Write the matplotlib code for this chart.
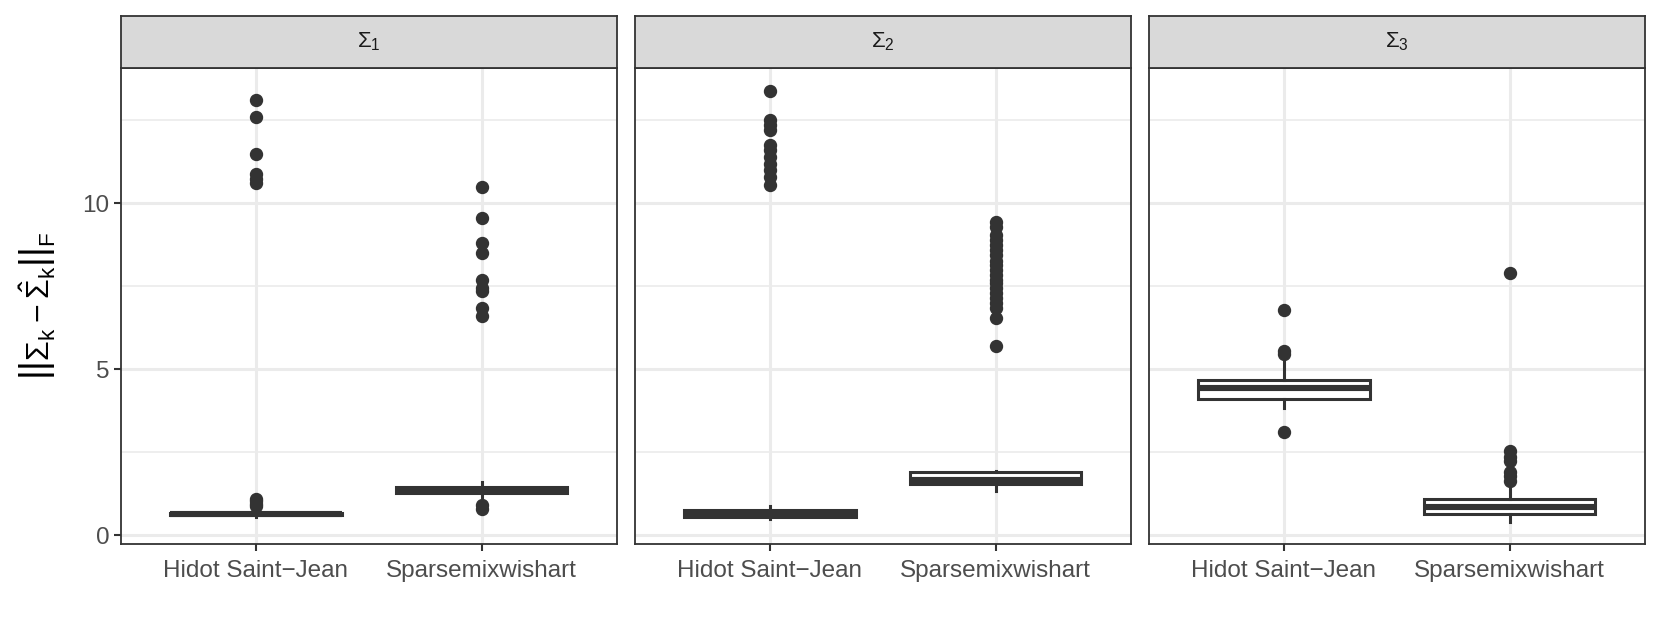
import matplotlib
matplotlib.use("Agg")
import matplotlib.pyplot as plt

plt.rcParams['font.family'] = ['Liberation Sans', 'DejaVu Sans']
plt.rcParams['mathtext.fontset'] = 'custom'
plt.rcParams['mathtext.rm'] = 'Liberation Sans'
plt.rcParams['mathtext.it'] = 'Liberation Sans:italic'
plt.rcParams['mathtext.bf'] = 'Liberation Sans:bold'

# data
methods = ["Hidot Saint\u2212Jean", "Sparsemixwishart"]
panels = [r"$\Sigma_1$", r"$\Sigma_2$", r"$\Sigma_3$"]

# per panel: [Hidot, Sparse]
q1 = [[0.60, 1.27], [0.56, 1.55], [4.12, 0.63]]
med = [[0.64, 1.36], [0.65, 1.68], [4.44, 0.86]]
q3 = [[0.68, 1.45], [0.75, 1.90], [4.67, 1.08]]
whislo = [[0.55, 1.15], [0.50, 1.33], [3.84, 0.40]]
whishi = [[0.75, 1.60], [0.88, 1.95], [5.29, 1.48]]
fliers = [
    [[0.88, 0.95, 1.02, 1.10, 10.6, 10.75, 10.9, 11.5, 12.6, 13.1],
     [0.80, 0.90, 6.6, 6.85, 7.35, 7.45, 7.7, 8.5, 8.8, 9.55, 10.48]],
    [[10.55, 10.8, 11.0, 11.2, 11.4, 11.6, 11.75, 12.2, 12.35, 12.5, 13.4],
     [5.7, 6.55, 6.85, 7.0, 7.15, 7.3, 7.45, 7.6, 7.7, 7.85, 8.0, 8.15,
      8.25, 8.45, 8.6, 8.75, 8.9, 9.05, 9.3, 9.45]],
    [[3.1, 5.45, 5.55, 6.79],
     [1.65, 1.8, 1.9, 2.25, 2.35, 2.55, 7.91]],
]

W, H = 1661, 634
fig = plt.figure(figsize=(W / 100, H / 100), dpi=100)

dark = "#333333"
lefts = [120.5, 634.5, 1148.5]
pw = 496.5
ax_bottom, ax_top, strip_top = 544.3, 68.3, 15.7

for i in range(3):
    ax = fig.add_axes([lefts[i] / W, 1 - ax_bottom / H, pw / W, (ax_bottom - ax_top) / H])
    stats = []
    for j in range(2):
        stats.append(dict(med=med[i][j], q1=q1[i][j], q3=q3[i][j],
                          whislo=whislo[i][j], whishi=whishi[i][j],
                          fliers=fliers[i][j]))
    ax.bxp(stats, positions=[1, 2], widths=0.76, showcaps=False, patch_artist=True,
           boxprops=dict(facecolor="white", edgecolor=dark, linewidth=2.2),
           medianprops=dict(color=dark, linewidth=4.4, solid_capstyle="butt"),
           whiskerprops=dict(color=dark, linewidth=2.2),
           flierprops=dict(marker="o", markerfacecolor=dark, markeredgecolor=dark,
                           markersize=8.6, linestyle="none"),
           zorder=3)
    ax.set_xlim(0.4, 2.6)
    ax.set_ylim(-0.27, 14.07)
    ax.set_yticks([0, 5, 10])
    ax.set_yticks([2.5, 7.5, 12.5], minor=True)
    ax.set_xticks([1, 2])
    ax.set_xticklabels(methods)
    ax.grid(True, which="major", color="#EBEBEB", linewidth=2.2, zorder=0)
    ax.grid(True, which="minor", axis="y", color="#EBEBEB", linewidth=1.2, zorder=0)
    ax.set_axisbelow(True)
    ax.tick_params(axis="both", which="major", length=5, width=1.5, color=dark,
                   labelsize=17.5, labelcolor="#4D4D4D", pad=3)
    ax.tick_params(axis="x", which="major", pad=6)
    ax.tick_params(axis="y", which="minor", length=0)
    if i > 0:
        ax.tick_params(axis="y", which="major", length=0, labelleft=False)
    for s in ax.spines.values():
        s.set_color(dark)
        s.set_linewidth(1.3)
    if i == 0:
        ax.set_ylabel(r"$\left|\left|\Sigma_{\mathrm{k}} - \hat{\Sigma}_{\mathrm{k}}\right|\right|_{\mathrm{F}}$",
                      fontsize=23, labelpad=18, color="black")

    sax = fig.add_axes([lefts[i] / W, 1 - ax_top / H, pw / W, (ax_top - strip_top) / H])
    sax.set_facecolor("#D9D9D9")
    sax.set_xticks([])
    sax.set_yticks([])
    for s in sax.spines.values():
        s.set_color(dark)
        s.set_linewidth(1.3)
    sax.text(0.5, 0.5, panels[i], ha="center", va="center", fontsize=16,
             color="#1A1A1A", transform=sax.transAxes)

fig.savefig("out.png", dpi=100)
